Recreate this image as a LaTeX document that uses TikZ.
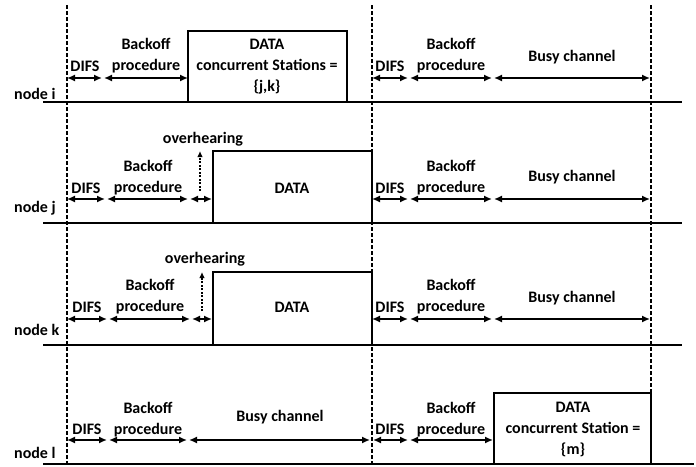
\documentclass[tikz,border=0pt]{standalone}
\usepackage{fontspec}
\setmainfont{Carlito}
\usetikzlibrary{arrows.meta}
\begin{document}
\begin{tikzpicture}[x=1pt,y=-1pt,
  every node/.style={font=\fontsize{16}{21}\selectfont\bfseries, inner sep=0pt, align=center},
  lbl/.style={anchor=west},
  base/.style={line width=1.9pt},
  vdash/.style={line width=2pt, dash pattern=on 3.5pt off 2.5pt},
  dim/.style={{Latex[length=8pt,width=7pt]}-{Latex[length=8pt,width=7pt]}, line width=1.5pt},
  boxline/.style={line width=1.9pt},
  over/.style={-{Latex[length=6pt,width=5.5pt]}, line width=1.3pt, dash pattern=on 2pt off 1.5pt}]
\useasboundingbox (0,0) rectangle (696,466);

% vertical dashed lines
\coordinate (d1t) at (67,5);   \coordinate (d1b) at (67,466);
\coordinate (d2t) at (372,5);  \coordinate (d2b) at (372,466);
\coordinate (d3t) at (651,5);  \coordinate (d3b) at (651,393);
\draw[vdash] (d1t) -- (d1b);
\draw[vdash] (d2t) -- (d2b);
\draw[vdash] (d3t) -- (d3b);

% ---------------- node i ----------------
\coordinate (bi0) at (43,102); \coordinate (bi1) at (682,102);
\draw[base] (bi0) -- (bi1);
\node[lbl] (ni) at (14,94) {node i};
\coordinate (ia0) at (67,78);  \coordinate (ia1) at (102,78);
\coordinate (ia2) at (104,78); \coordinate (ia3) at (188,78);
\draw[dim] (ia0) -- (ia1);
\draw[dim] (ia2) -- (ia3);
\node (idifs) at (85,66) {DIFS};
\node (iback) at (146,55.5) {Backoff\\procedure};
\coordinate (ibx1) at (188,102); \coordinate (ibx2) at (188,31);
\coordinate (ibx3) at (347,31);  \coordinate (ibx4) at (347,102);
\draw[boxline] (ibx1) -- (ibx2) -- (ibx3) -- (ibx4);
\node (idata) at (267,67) {DATA\\concurrent Stations =\\\{j,k\}};
\coordinate (ir0) at (372,78); \coordinate (ir1) at (408,78);
\coordinate (ir2) at (410,78); \coordinate (ir3) at (492,78);
\coordinate (ir4) at (494,78); \coordinate (ir5) at (650,78);
\draw[dim] (ir0) -- (ir1);
\draw[dim] (ir2) -- (ir3);
\draw[dim] (ir4) -- (ir5);
\node (irdifs) at (390,66) {DIFS};
\node (irback) at (451,55.5) {Backoff\\procedure};
\node (irbusy) at (572,57) {Busy channel};

% ---------------- node j ----------------
\coordinate (bj0) at (43,223); \coordinate (bj1) at (682,223);
\draw[base] (bj0) -- (bj1);
\node[lbl] (nj) at (14,208) {node j};
\coordinate (ja0) at (67,199);  \coordinate (ja1) at (105,199);
\coordinate (ja2) at (107,199); \coordinate (ja3) at (188,199);
\coordinate (ja4) at (190,199); \coordinate (ja5) at (212,199);
\draw[dim] (ja0) -- (ja1);
\draw[dim] (ja2) -- (ja3);
\draw[dim] (ja4) -- (ja5);
\node (jdifs) at (86,188) {DIFS};
\node (jback) at (148,177.5) {Backoff\\procedure};
\coordinate (jo0) at (200,191); \coordinate (jo1) at (200,151);
\draw[over] (jo0) -- (jo1);
\node (jover) at (203,139) {overhearing};
\coordinate (jbx1) at (213,223); \coordinate (jbx2) at (213,151);
\coordinate (jbx3) at (372,151); \coordinate (jbx4) at (372,223);
\draw[boxline] (jbx1) -- (jbx2) -- (jbx3) -- (jbx4);
\node (jdata) at (292,188) {DATA};
\coordinate (jr0) at (372,199); \coordinate (jr1) at (408,199);
\coordinate (jr2) at (410,199); \coordinate (jr3) at (492,199);
\coordinate (jr4) at (494,199); \coordinate (jr5) at (650,199);
\draw[dim] (jr0) -- (jr1);
\draw[dim] (jr2) -- (jr3);
\draw[dim] (jr4) -- (jr5);
\node (jrdifs) at (390,188) {DIFS};
\node (jrback) at (451,177.5) {Backoff\\procedure};
\node (jrbusy) at (572,177) {Busy channel};

% ---------------- node k ----------------
\coordinate (bk0) at (43,345); \coordinate (bk1) at (682,345);
\draw[base] (bk0) -- (bk1);
\node[lbl] (nk) at (14,330) {node k};
\coordinate (ka0) at (67,319);  \coordinate (ka1) at (107,319);
\coordinate (ka2) at (109,319); \coordinate (ka3) at (190,319);
\coordinate (ka4) at (192,319); \coordinate (ka5) at (212,319);
\draw[dim] (ka0) -- (ka1);
\draw[dim] (ka2) -- (ka3);
\draw[dim] (ka4) -- (ka5);
\node (kdifs) at (87,307) {DIFS};
\node (kback) at (150,296.5) {Backoff\\procedure};
\coordinate (ko0) at (202,311); \coordinate (ko1) at (202,272);
\draw[over] (ko0) -- (ko1);
\node (kover) at (205,259) {overhearing};
\coordinate (kbx1) at (213,345); \coordinate (kbx2) at (213,272);
\coordinate (kbx3) at (372,272); \coordinate (kbx4) at (372,345);
\draw[boxline] (kbx1) -- (kbx2) -- (kbx3) -- (kbx4);
\node (kdata) at (292,307) {DATA};
\coordinate (kr0) at (372,319); \coordinate (kr1) at (408,319);
\coordinate (kr2) at (410,319); \coordinate (kr3) at (492,319);
\coordinate (kr4) at (494,319); \coordinate (kr5) at (650,319);
\draw[dim] (kr0) -- (kr1);
\draw[dim] (kr2) -- (kr3);
\draw[dim] (kr4) -- (kr5);
\node (krdifs) at (390,307) {DIFS};
\node (krback) at (451,296.5) {Backoff\\procedure};
\node (krbusy) at (572,298) {Busy channel};

% ---------------- node l ----------------
\coordinate (bl0) at (43,464); \coordinate (bl1) at (694,464);
\draw[base] (bl0) -- (bl1);
\node[lbl] (nl) at (14,453) {node l};
\coordinate (la0) at (67,440);  \coordinate (la1) at (107,440);
\coordinate (la2) at (109,440); \coordinate (la3) at (187,440);
\coordinate (la4) at (189,440); \coordinate (la5) at (370,440);
\draw[dim] (la0) -- (la1);
\draw[dim] (la2) -- (la3);
\draw[dim] (la4) -- (la5);
\node (ldifs) at (87,429) {DIFS};
\node (lback) at (148,419.5) {Backoff\\procedure};
\node (lbusy) at (280,417) {Busy channel};
\coordinate (lr0) at (373,440); \coordinate (lr1) at (408,440);
\coordinate (lr2) at (410,440); \coordinate (lr3) at (493,440);
\draw[dim] (lr0) -- (lr1);
\draw[dim] (lr2) -- (lr3);
\node (lrdifs) at (390,429) {DIFS};
\node (lrback) at (451,419.5) {Backoff\\procedure};
\coordinate (lbx1) at (494,464); \coordinate (lbx2) at (494,393);
\coordinate (lbx3) at (651,393); \coordinate (lbx4) at (651,464);
\draw[boxline] (lbx1) -- (lbx2) -- (lbx3) -- (lbx4);
\node (ldata) at (573,429) {DATA\\concurrent Station =\\\{m\}};
\end{tikzpicture}
\end{document}
